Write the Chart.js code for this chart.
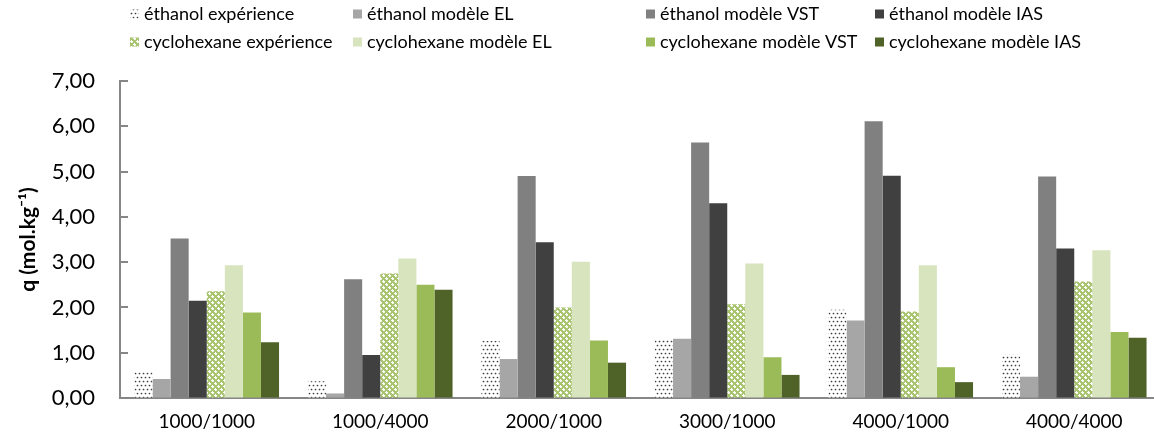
<!DOCTYPE html>
<html><head><meta charset="utf-8">
<script src="https://cdn.jsdelivr.net/npm/chart.js@4.4.1/dist/chart.umd.min.js"></script>
<style>
html,body{margin:0;padding:0;background:#fff;overflow:hidden;width:1154px;height:437px}
#wrap{position:absolute;left:0;top:0;width:1161px;height:437px}
</style></head><body>
<div id="wrap"><canvas id="c"></canvas></div>
<script>
const categories = ['1000/1000','1000/4000','2000/1000','3000/1000','4000/1000','4000/4000'];
const seriesNames = ['éthanol expérience','éthanol modèle EL','éthanol modèle VST','éthanol modèle IAS',
  'cyclohexane expérience','cyclohexane modèle EL','cyclohexane modèle VST','cyclohexane modèle IAS'];
const ethanolExp = [0.57,0.37,1.26,1.28,1.95,0.96];
const ethanolEL  = [0.42,0.10,0.86,1.31,1.71,0.47];
const ethanolVST = [3.52,2.62,4.90,5.64,6.11,4.89];
const ethanolIAS = [2.15,0.95,3.44,4.30,4.91,3.30];
const cycloExp   = [2.36,2.75,2.00,2.07,1.91,2.57];
const cycloEL    = [2.93,3.08,3.01,2.97,2.93,3.26];
const cycloVST   = [1.89,2.50,1.27,0.90,0.68,1.46];
const cycloIAS   = [1.23,2.39,0.78,0.51,0.35,1.33];
const yTickLabels = ['0,00','1,00','2,00','3,00','4,00','5,00','6,00','7,00'];

const FONT = "Lato, 'Noto Sans', 'DejaVu Sans', sans-serif";
const AXIS = '#868686';

function dotPattern(){
  const c = document.createElement('canvas'); c.width = 4; c.height = 8;
  const x = c.getContext('2d');
  x.fillStyle = '#ffffff'; x.fillRect(0,0,4,8);
  x.fillStyle = '#3a3a3a';
  x.beginPath(); x.arc(1.5, 1.5, 0.85, 0, Math.PI * 2); x.fill();
  x.beginPath(); x.arc(3.5, 5.5, 0.85, 0, Math.PI * 2); x.fill();
  x.beginPath(); x.arc(-0.5, 5.5, 0.85, 0, Math.PI * 2); x.fill();
  return x.createPattern(c,'repeat');
}
function crossPattern(){
  const c = document.createElement('canvas'); c.width = 6; c.height = 6;
  const x = c.getContext('2d');
  x.fillStyle = '#a9c46f'; x.fillRect(0,0,6,6);
  x.fillStyle = '#ffffff';
  x.fillRect(2,1,1,3); x.fillRect(1,2,3,1);
  x.fillRect(5,4,1,3); x.fillRect(4,5,3,1); x.fillRect(5,0,1,1); x.fillRect(0,5,1,1);
  x.fillStyle = '#e3ecd0';
  x.fillRect(0,0,1,1); x.fillRect(3,3,1,1);
  return x.createPattern(c,'repeat');
}

const seriesValues = [ethanolExp, ethanolEL, ethanolVST, ethanolIAS, cycloExp, cycloEL, cycloVST, cycloIAS];
const seriesFills = [dotPattern(), '#A6A6A6', '#808080', '#404040', crossPattern(), '#D7E4BD', '#9BBB59', '#4F6228'];

const gridLegend = {
  id: 'gridLegend',
  afterDraw(chart, args, opts){
    const ctx = chart.ctx;
    ctx.save();
    ctx.font = opts.font;
    ctx.textBaseline = 'middle';
    ctx.textAlign = 'left';
    chart.data.datasets.forEach((ds, i) => {
      const col = i % 4, row = Math.floor(i / 4);
      const x = opts.columns[col], y = opts.rows[row];
      ctx.fillStyle = ds.backgroundColor;
      ctx.fillRect(x, y - opts.box / 2, opts.box, opts.box);
      ctx.fillStyle = '#000';
      ctx.fillText(ds.label, x + opts.textGap, y);
    });
    ctx.restore();
  }
};
const innerTicks = {
  id: 'innerTicks',
  afterDatasetsDraw(chart, args, opts){
    const y = chart.scales.y, ctx = chart.ctx;
    ctx.save();
    ctx.strokeStyle = opts.color; ctx.lineWidth = opts.width;
    y.ticks.forEach((t, i) => {
      const py = Math.round(y.getPixelForTick(i));
      ctx.beginPath(); ctx.moveTo(y.right, py); ctx.lineTo(y.right + opts.length, py); ctx.stroke();
    });
    ctx.restore();
  }
};

new Chart(document.getElementById('c'), {
  type: 'bar',
  data: {
    labels: categories,
    datasets: seriesNames.map((n, i) => ({
      label: n, data: seriesValues[i], backgroundColor: seriesFills[i], borderWidth: 0,
      categoryPercentage: 1 / 1.2, barPercentage: 1
    }))
  },
  options: {
    responsive: true, maintainAspectRatio: false, animation: false,
    layout: { padding: { top: 81, left: 0, right: 0, bottom: 0 } },
    plugins: {
      legend: { display: false }, tooltip: { enabled: false },
      gridLegend: { columns: [130, 353, 646, 875], rows: [14, 42], box: 9, textGap: 14,
        font: "18px " + FONT },
      innerTicks: { color: AXIS, width: 2, length: 8 }
    },
    scales: {
      x: {
        grid: { display: true, drawOnChartArea: false, drawTicks: false },
        border: { display: true, color: AXIS, width: 2 },
        ticks: { color: '#000', font: { family: FONT, size: 19 }, padding: 12, maxRotation: 0 },
        afterFit(s){ s.height = 39; }
      },
      y: {
        min: 0, max: 7,
        grid: { display: true, drawOnChartArea: false, drawTicks: false },
        border: { display: true, color: AXIS, width: 2 },
        ticks: { stepSize: 1, color: '#000', font: { family: FONT, size: 22 }, padding: 25,
          callback: (v) => yTickLabels[Math.round(v)] },
        title: { display: true, text: 'q (mol.kg⁻¹)', color: '#000',
          font: { family: FONT, size: 21, weight: 'bold' }, padding: { top: 16, bottom: 0 } },
        afterFit(s){ s.width = 120; }
      }
    }
  },
  plugins: [gridLegend, innerTicks]
});
</script>
</body></html>
